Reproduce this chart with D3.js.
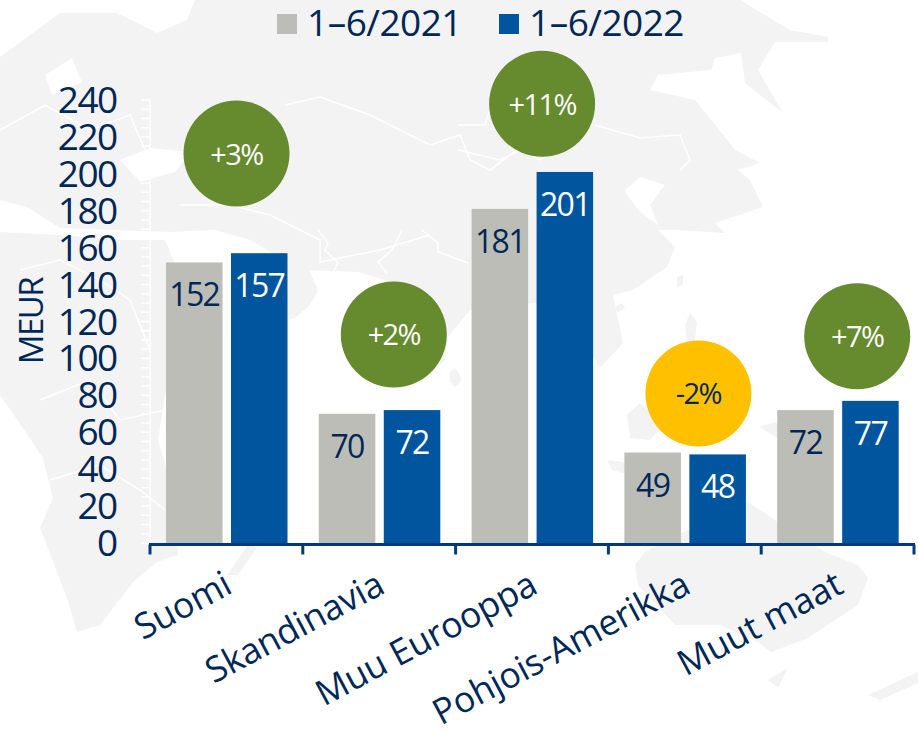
<!DOCTYPE html>
<html>
<meta charset="utf-8">
<script src="https://d3js.org/d3.v7.min.js"></script>
<style>
body { margin: 0; background: #fff; }
text { font-family: "Open Sans", sans-serif; }
</style>
<div id="my_dataviz"></div>
<script>
const categories = ["Suomi", "Skandinavia", "Muu Eurooppa", "Pohjois-Amerikka", "Muut maat"]
const seriesNames = ["1–6/2021", "1–6/2022"]
const values2021 = [152, 70, 181, 49, 72]
const values2022 = [157, 72, 201, 48, 77]
const changes = ["+3%", "+2%", "+11%", "-2%", "+7%"]
const bubbleValues = [211, 113, 238, 81, 112]
const yTicks = d3.range(0, 241, 20)

const navy = "#002856", grey = "#bcbdb7", blue = "#00559f", green = "#668a2e", yellow = "#ffc000"

const svg = d3.select("#my_dataviz").append("svg")
  .attr("width", 918).attr("height", 735)
  .style("display", "block")

// faint world map behind the chart, traced by eye
const land = [
  "M0,57 L60,13 L117,13 L157,33 L187,20 L195,0 L740,0 L790,30 L828,37 L828,42 L775,42 L758,70 L783,113 L745,83 L741,53 L715,58 L711,70 L658,75 L650,90 L695,100 L725,137 L735,150 L760,163 L738,170 L750,180 L763,207 L715,223 L725,233 L675,230 L658,230 L675,247 L667,267 L633,290 L613,295 L623,343 L600,368 L590,350 L560,300 L470,310 L448,337 L385,280 L358,272 L302,270 L250,240 L215,230 L170,232 L60,228 L27,207 L0,200 Z",
  "M0,232 L60,235 L120,240 L165,240 L190,300 L215,325 L195,355 L165,395 L158,440 L175,500 L178,555 L157,562 L133,582 L100,625 L77,632 L67,598 L57,572 L40,528 L53,498 L43,458 L23,428 L0,395 Z",
  "M288,262 L305,262 L318,290 L310,305 L295,318 L288,320 Z",
  "M432,340 L448,337 L445,360 L432,373 Z",
  "M450,372 L456,368 L462,380 L455,387 L450,382 Z",
  "M645,552 L745,500 L790,530 L825,552 L858,565 L868,578 L858,605 L808,638 L771,652 L758,642 L720,625 L675,625 L638,585 L635,565 Z",
  "M627,415 L640,403 L663,425 L650,440 L630,438 Z",
  "M607,460 L623,462 L650,480 L612,470 Z",
  "M760,427 L775,422 L800,440 L780,440 Z",
  "M227,575 L250,542 L257,548 L238,575 Z",
  "M685,325 L690,313 L697,322 L695,340 L687,345 Z",
  "M868,695 L918,672 L918,683 L880,700 Z",
  "M768,680 L788,668 L778,688 Z",
  "M677,277 L683,275 L683,285 L677,287 Z",
  "M615,307 L622,303 L625,308 L618,312 Z"
]
svg.append("g").selectAll("path").data(land).join("path")
  .attr("d", d => d)
  .attr("fill", "#f3f3f3")

// inland seas and borders, white
const gaps = [
  "M120,160 L150,148 L190,152 L175,172 L140,182 Z",
  "M625,190 L640,177 L665,185 L650,205 L658,225 L640,212 L627,195 Z",
  "M45,75 L72,58 L82,82 L52,95 Z"
]
svg.append("g").selectAll("path").data(gaps).join("path")
  .attr("d", d => d)
  .attr("fill", "#fff")
const borders = [
  "M285,105 L320,97 L370,115 L430,145 L460,135 L470,160 L490,170 L530,140",
  "M180,205 L230,205 L270,215 L320,240 L320,262 L380,250 L430,235",
  "M0,130 L45,105 L90,130 L130,115 L145,150",
  "M20,270 L60,260 L100,280 L130,300 L150,350",
  "M40,400 L90,380 L120,420 L165,410",
  "M50,480 L100,465 L140,490 L165,510",
  "M458,125 L485,125 L490,108",
  "M458,150 L500,160 L520,150 L540,160 L585,135",
  "M595,125 L640,138 L680,135 L690,160 L680,170",
  "M318,230 L328,243 L325,250 L338,263 L333,272",
  "M402,230 L392,250 L378,262 L387,273",
  "M422,230 L438,243 L438,252 L468,263"
]
svg.append("g").selectAll("path").data(borders).join("path")
  .attr("d", d => d)
  .attr("fill", "none").attr("stroke", "#fff").attr("stroke-width", 1.5)

const y = d3.scaleLinear().domain([0, 240]).range([543, 100])
const x0 = d3.scaleBand().domain(categories).range([150, 914])
const x1 = d3.scaleBand().domain(seriesNames).range([16, 137.5]).paddingInner(0.13)

// white minor axis on the map
svg.append("line")
  .attr("x1", 150).attr("x2", 150).attr("y1", y(240)).attr("y2", y(0))
  .attr("stroke", "#fff").attr("stroke-width", 1.5)
svg.append("g").selectAll("line").data(d3.range(0, 241, 5)).join("line")
  .attr("x1", 141).attr("x2", 150)
  .attr("y1", d => y(d)).attr("y2", d => y(d))
  .attr("stroke", "#fff").attr("stroke-width", 1.5)

// y tick labels
svg.append("g").selectAll("text").data(yTicks).join("text")
  .attr("x", 116.5).attr("y", d => y(d) + 13)
  .attr("text-anchor", "end")
  .attr("font-size", 37).attr("letter-spacing", -1.6)
  .attr("fill", navy)
  .text(d => d)

svg.append("text")
  .attr("transform", "translate(43,321) rotate(-90)")
  .attr("text-anchor", "middle")
  .attr("font-size", 33).attr("letter-spacing", -1.5)
  .attr("fill", navy)
  .text("MEUR")

// bars
const rows = categories.map((c, i) => [
  { cat: c, s: seriesNames[0], v: values2021[i] },
  { cat: c, s: seriesNames[1], v: values2022[i] }
]).flat()

svg.append("g").selectAll("rect").data(rows).join("rect")
  .attr("x", d => x0(d.cat) + x1(d.s))
  .attr("y", d => y(d.v))
  .attr("width", x1.bandwidth())
  .attr("height", d => y(0) - y(d.v))
  .attr("fill", d => d.s == seriesNames[0] ? grey : blue)

svg.append("g").selectAll("text").data(rows).join("text")
  .attr("x", d => x0(d.cat) + x1(d.s) + x1.bandwidth() / 2)
  .attr("y", d => y(d.v) + 44)
  .attr("text-anchor", "middle")
  .attr("font-size", 32).attr("letter-spacing", -1.7)
  .attr("fill", d => d.s == seriesNames[0] ? navy : "#fff")
  .text(d => d.v)

// x axis
const axisX = svg.append("g").attr("transform", "translate(0,544.5)")
axisX.append("line").attr("x1", 149).attr("x2", 915).attr("stroke", "#003a7d").attr("stroke-width", 3)
axisX.selectAll("line.tick").data(categories.concat("end")).join("line")
  .attr("class", "tick")
  .attr("x1", (d, i) => 150 + i * x0.step()).attr("x2", (d, i) => 150 + i * x0.step())
  .attr("y1", 0).attr("y2", 10)
  .attr("stroke", "#003a7d").attr("stroke-width", 3)

// category labels, rotated
svg.append("g").selectAll("text").data(categories).join("text")
  .attr("transform", d => `translate(${x0(d) + 84},592) rotate(-28)`)
  .attr("text-anchor", "end")
  .attr("font-size", 35.5).attr("letter-spacing", -0.2)
  .attr("fill", navy)
  .text(d => d)

// change bubbles
const bubbleX = [86.5, 91, 86.5, 90, 96]
const bubbles = svg.append("g").selectAll("g").data(categories).join("g")
  .attr("transform", (d, i) => `translate(${x0(d) + bubbleX[i]},${y(bubbleValues[i])})`)
bubbles.append("circle").attr("r", 53)
  .attr("fill", (d, i) => changes[i][0] == "-" ? yellow : green)
bubbles.append("text")
  .attr("y", 11).attr("text-anchor", "middle")
  .attr("font-size", 29).attr("letter-spacing", -1.6)
  .attr("fill", (d, i) => changes[i][0] == "-" ? navy : "#fff")
  .text((d, i) => changes[i])

// legend
const legendX = [277, 499]
const legend = svg.append("g").selectAll("g").data(seriesNames).join("g")
  .attr("transform", (d, i) => `translate(${legendX[i]},14)`)
legend.append("rect").attr("width", 20).attr("height", 20)
  .attr("fill", (d, i) => i == 0 ? grey : blue)
legend.append("text")
  .attr("x", 30).attr("y", 22)
  .attr("font-size", 37).attr("letter-spacing", -0.5)
  .attr("fill", navy)
  .text(d => d)
</script>
</html>
